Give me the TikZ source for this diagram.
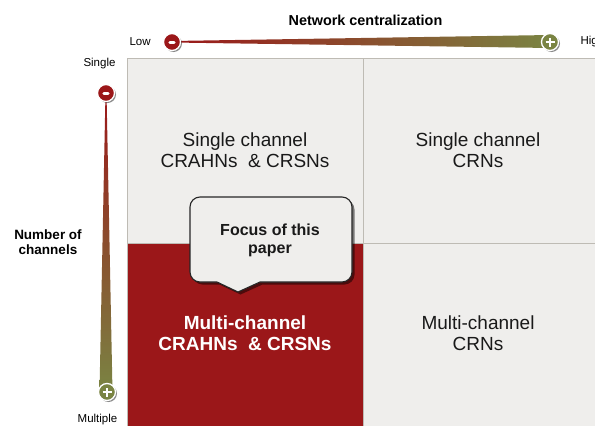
\documentclass[tikz,border=0pt]{standalone}
\usepackage{fontspec}
\setmainfont{Liberation Sans}
\usetikzlibrary{shadows}
\definecolor{cred}{HTML}{9B1719}
\definecolor{colive}{HTML}{7A8443}
\definecolor{cellbg}{HTML}{EFEEEC}
\definecolor{cellline}{HTML}{BEBBB4}
\tikzset{
  cell/.style={draw=cellline, line width=1pt, fill=cellbg, minimum width=#1, inner sep=0pt},
  celltext/.style={font=\fontsize{19}{21.5}\selectfont, align=center, text=black!90},
  axistitle/.style={font=\bfseries\fontsize{14.4}{15}\selectfont, align=center},
  axislabel/.style={font=\fontsize{11.5}{13}\selectfont},
  btn/.style={circle, minimum size=17pt, inner sep=0pt, draw=white, line width=1.3pt,
    drop shadow={shadow xshift=1.5pt, shadow yshift=-1.5pt, opacity=0.45, fill=black}},
  signline/.style={white, line width=2.6pt},
}
\begin{document}
\begin{tikzpicture}[x=1pt,y=-1pt]
\useasboundingbox (0,0) rectangle (595,426);
\clip (0,0) rectangle (595,426);
% cells
\node[cell=236pt, minimum height=185pt] (c11) at (245,150.5) {};
\node[cell=240pt, minimum height=185pt] (c12) at (483,150.5) {};
\node[cell=236pt, minimum height=190pt, fill=cred] (c21) at (245,338) {};
\node[cell=240pt, minimum height=190pt] (c22) at (483,338) {};
\node[celltext] (t11) at (245,150) {Single channel\\CRAHNs \ \& CRSNs};
\node[celltext] (t12) at (478,150) {Single channel\\CRNs};
\node[celltext, text=white, font=\bfseries\fontsize{19}{20.5}\selectfont] (t21) at (245,333) {Multi-channel\\CRAHNs \ \& CRSNs};
\node[celltext] (t22) at (478,333) {Multi-channel\\CRNs};
% top axis
\node[axistitle] (xt) at (365.5,20) {Network centralization};
\node[axislabel, anchor=west] (low) at (126,41.5) {Low};
\node[axislabel, anchor=west] (high) at (577,41.5) {High};
\shade[left color=cred, right color=colive] (172,41) -- (550,35) -- (550,48) -- (172,42.5) -- cycle;
\node[btn, fill=cred] (xm) at (172,42) {};
\node[btn, fill=colive] (xp) at (550,42) {};
\draw[signline, line width=3pt, line cap=round] ([xshift=-2.2pt]xm.center) -- ([xshift=2.2pt]xm.center);
\draw[signline] ([xshift=-4.5pt]xp.center) -- ([xshift=4.5pt]xp.center);
\draw[signline] ([yshift=-4.5pt]xp.center) -- ([yshift=4.5pt]xp.center);
% left axis
\node[axistitle, font=\bfseries\fontsize{13.5}{15}\selectfont] (yt) at (48,242.5) {Number of\\channels};
\node[axislabel, anchor=east] (single) at (119,64) {Single};
\node[axislabel] (multiple) at (97.5,420) {Multiple};
\shade[top color=cred, bottom color=colive] (105.5,93) -- (106.5,93) -- (112.5,392) -- (99.5,392) -- cycle;
\node[btn, fill=cred] (ym) at (106,93) {};
\node[btn, fill=colive] (yp) at (107,392) {};
\draw[signline, line width=3pt, line cap=round] ([xshift=-2.2pt]ym.center) -- ([xshift=2.2pt]ym.center);
\draw[signline] ([xshift=-4.5pt]yp.center) -- ([xshift=4.5pt]yp.center);
\draw[signline] ([yshift=-4.5pt]yp.center) -- ([yshift=4.5pt]yp.center);
% callout
\path[fill=cellbg, draw=black!85, line width=1.1pt,
  drop shadow={shadow xshift=2.5pt, shadow yshift=-2.5pt, opacity=0.5, fill=black}]
  (200,197) -- (342,197) arc[start angle=90, end angle=0, radius=10pt]
  -- (352,272) arc[start angle=0, end angle=-90, radius=10pt]
  -- (260,282) -- (238,292) -- (217,282) -- (200,282)
  arc[start angle=270, end angle=180, radius=10pt]
  -- (190,207) arc[start angle=180, end angle=90, radius=10pt] -- cycle;
\node[font=\bfseries\fontsize{16}{18}\selectfont, align=center, text=black!90] (focus) at (270,240.5) {Focus of this\\paper};
\end{tikzpicture}
\end{document}
